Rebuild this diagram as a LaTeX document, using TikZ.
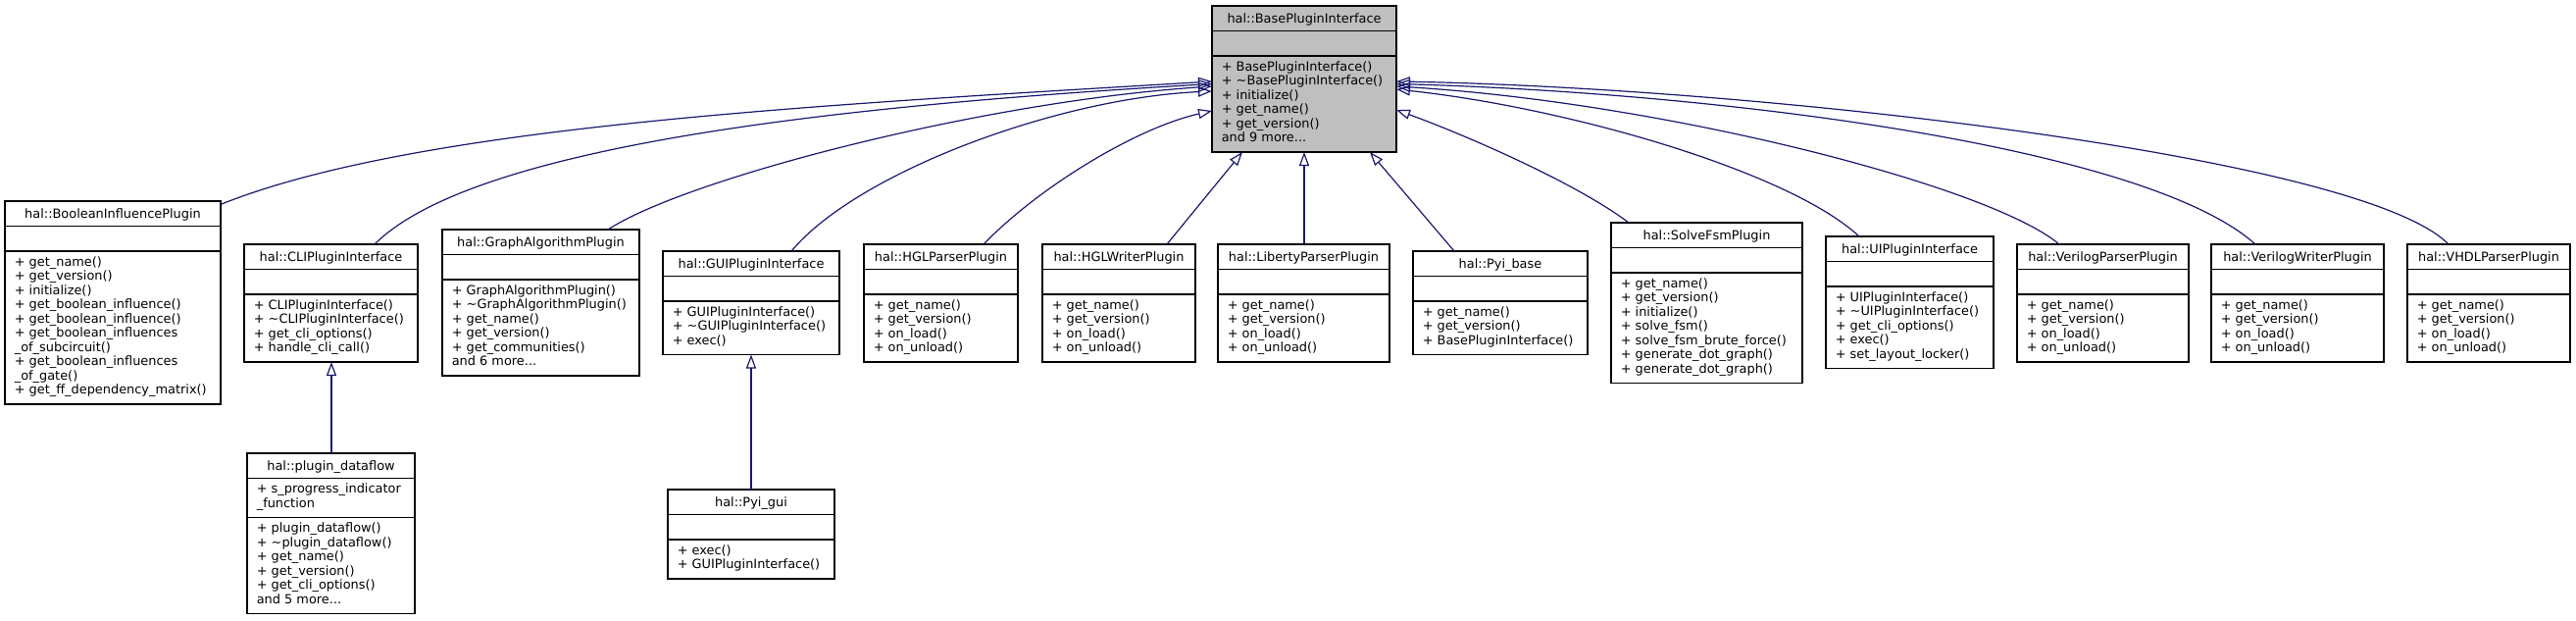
\documentclass[tikz,border=0pt]{standalone}
\usepackage{fontspec}
\setmainfont{DejaVu Sans}
\usetikzlibrary{arrows.meta,calc}
\definecolor{basegray}{HTML}{BFBFBF}
\definecolor{edgeblue}{HTML}{191970}
\def\boxfill{white}
\newcommand\threedots{...}
\newcommand\umlclass[9]{%
  \pgfmathsetmacro\ya{#3+25.5}%
  \pgfmathsetmacro\yb{\ya+max(#6,1)*14.5+11}%
  \pgfmathsetmacro\yc{\yb+#8*14.5+11}%
  \pgfmathsetmacro\bw{#4-#2}%
  \pgfmathsetmacro\bh{\yc-#3}%
  \pgfmathsetmacro\xm{(#2+#4)/2}%
  \pgfmathsetmacro\xt{#2+9.6}%
  \pgfmathsetmacro\yt{#3+17.5}%
  \node[classbox, fill=\boxfill, minimum width=\bw pt, minimum height=\bh pt] (#1) at (#2,#3) {};
  \draw[sepline] (#2,\ya) -- (#4,\ya);
  \draw[sepline] (#2,\yb) -- (#4,\yb);
  \node[titletext] (#1-t) at (\xm,\yt) {#5};
  \ifnum#6>0
    \foreach \mline [count=\i] in {#7} {\node[linetext] (#1-a\i) at ({\xt}, {\ya+15+(\i-1)*14.5}) {\mline};}
  \fi
  \foreach \mline [count=\i] in {#9} {\node[linetext] (#1-m\i) at ({\xt}, {\yb+15+(\i-1)*14.5}) {\mline};}
}
\begin{document}
\begin{tikzpicture}[x=1pt,y=-1pt,
  classbox/.style={draw=black, line width=1.3pt, anchor=north west, inner sep=0pt, outer sep=0pt},
  sepline/.style={draw=black, line width=1.3pt},
  titletext/.style={anchor=base, inner sep=0pt, font=\fontsize{12.9}{14.5}\selectfont},
  linetext/.style={anchor=base west, inner sep=0pt, font=\fontsize{12.9}{14.5}\selectfont},
  inh/.style={draw=edgeblue, line width=1.2pt, -{Triangle[open,length=14pt,width=10pt]}}
]
\useasboundingbox (0,0) rectangle (2627,632);
\fill[white] (0,0) rectangle (2627,632);

\def\boxfill{basegray}
\umlclass{base}{1236}{6}{1424}{hal::BasePluginInterface}{0}{}{6}{+ BasePluginInterface(), + \textasciitilde{}BasePluginInterface(), + initialize(), + get\_name(), + get\_version(), and 9 more\threedots}
\def\boxfill{white}
\umlclass{bool}{5}{205}{225}{hal::BooleanInfluencePlugin}{0}{}{10}{+ get\_name(), + get\_version(), + initialize(), + get\_boolean\_influence(), + get\_boolean\_influence(), + get\_boolean\_influences, \_of\_subcircuit(), + get\_boolean\_influences, \_of\_gate(), + get\_ff\_dependency\_matrix()}
\umlclass{cli}{249}{249}{426}{hal::CLIPluginInterface}{0}{}{4}{+ CLIPluginInterface(), + \textasciitilde{}CLIPluginInterface(), + get\_cli\_options(), + handle\_cli\_call()}
\umlclass{dataflow}{252}{462}{423}{hal::plugin\_dataflow}{2}{+ s\_progress\_indicator, \_function}{6}{+ plugin\_dataflow(), + \textasciitilde{}plugin\_dataflow(), + get\_name(), + get\_version(), + get\_cli\_options(), and 5 more\threedots}
\umlclass{graph}{451}{234}{652}{hal::GraphAlgorithmPlugin}{0}{}{6}{+ GraphAlgorithmPlugin(), + \textasciitilde{}GraphAlgorithmPlugin(), + get\_name(), + get\_version(), + get\_communities(), and 6 more\threedots}
\umlclass{gui}{676}{256}{856}{hal::GUIPluginInterface}{0}{}{3}{+ GUIPluginInterface(), + \textasciitilde{}GUIPluginInterface(), + exec()}
\umlclass{pyigui}{681}{499}{851}{hal::Pyi\_gui}{0}{}{2}{+ exec(), + GUIPluginInterface()}
\umlclass{hglp}{881}{249}{1038}{hal::HGLParserPlugin}{0}{}{4}{+ get\_name(), + get\_version(), + on\_load(), + on\_unload()}
\umlclass{hglw}{1063}{249}{1219}{hal::HGLWriterPlugin}{0}{}{4}{+ get\_name(), + get\_version(), + on\_load(), + on\_unload()}
\umlclass{lib}{1242}{249}{1417}{hal::LibertyParserPlugin}{0}{}{4}{+ get\_name(), + get\_version(), + on\_load(), + on\_unload()}
\umlclass{pyibase}{1441}{256}{1619}{hal::Pyi\_base}{0}{}{3}{+ get\_name(), + get\_version(), + BasePluginInterface()}
\umlclass{fsm}{1643}{227}{1838}{hal::SolveFsmPlugin}{0}{}{7}{+ get\_name(), + get\_version(), + initialize(), + solve\_fsm(), + solve\_fsm\_brute\_force(), + generate\_dot\_graph(), + generate\_dot\_graph()}
\umlclass{ui}{1862}{241}{2033}{hal::UIPluginInterface}{0}{}{5}{+ UIPluginInterface(), + \textasciitilde{}UIPluginInterface(), + get\_cli\_options(), + exec(), + set\_layout\_locker()}
\umlclass{vp}{2057}{249}{2232}{hal::VerilogParserPlugin}{0}{}{4}{+ get\_name(), + get\_version(), + on\_load(), + on\_unload()}
\umlclass{vw}{2255}{249}{2431}{hal::VerilogWriterPlugin}{0}{}{4}{+ get\_name(), + get\_version(), + on\_load(), + on\_unload()}
\umlclass{vhdl}{2455}{249}{2621}{hal::VHDLParserPlugin}{0}{}{4}{+ get\_name(), + get\_version(), + on\_load(), + on\_unload()}

% inheritance edges
\draw[inh] ($(bool.north east)+(1,3)$) .. controls (426,128) and (836,107) .. ($(base.north west)+(0,77)$);
\draw[inh] ($(cli.north west)+(133,0)$) .. controls (487,144) and (886,106) .. ($(base.north west)+(0,79.5)$);
\draw[inh] ($(graph.north west)+(169,0)$) .. controls (700,182) and (1000,104) .. ($(base.north west)+(0,82)$);
\draw[inh] ($(gui.north west)+(131,0)$) .. controls (875,175) and (1080,100) .. ($(base.north west)+(0,87)$);
\draw[inh] ($(hglp.north west)+(122,0)$) .. controls (1060,190) and (1160,130) .. ($(base.north west)+(0,107)$);
\draw[inh] ($(hglw.north west)+(127,0)$) -- ($(base.south west)+(31,0)$);
\draw[inh] ($(lib.north west)+(88,0)$) -- ($(base.south west)+(94,0)$);
\draw[inh] ($(pyibase.north west)+(42,0)$) -- ($(base.south west)+(161,0)$);
\draw[inh] ($(fsm.north west)+(18,0)$) .. controls (1605,185) and (1490,136) .. ($(base.north east)+(0,106)$);
\draw[inh] ($(ui.north west)+(34,0)$) .. controls (1825,175) and (1600,110) .. ($(base.north east)+(0,85)$);
\draw[inh] ($(vp.north west)+(43,0)$) .. controls (2030,190) and (1700,105) .. ($(base.north east)+(0,82)$);
\draw[inh] ($(vw.north west)+(45,0)$) .. controls (2190,150) and (1760,95) .. ($(base.north east)+(0,79.5)$);
\draw[inh] ($(vhdl.north west)+(42,0)$) .. controls (2410,160) and (1800,90) .. ($(base.north east)+(0,77)$);
\draw[inh] ($(dataflow.north west)+(86,0)$) -- ($(cli.south west)+(89,0)$);
\draw[inh] ($(pyigui.north west)+(85,0)$) -- ($(gui.south west)+(90,0)$);
\end{tikzpicture}
\end{document}
